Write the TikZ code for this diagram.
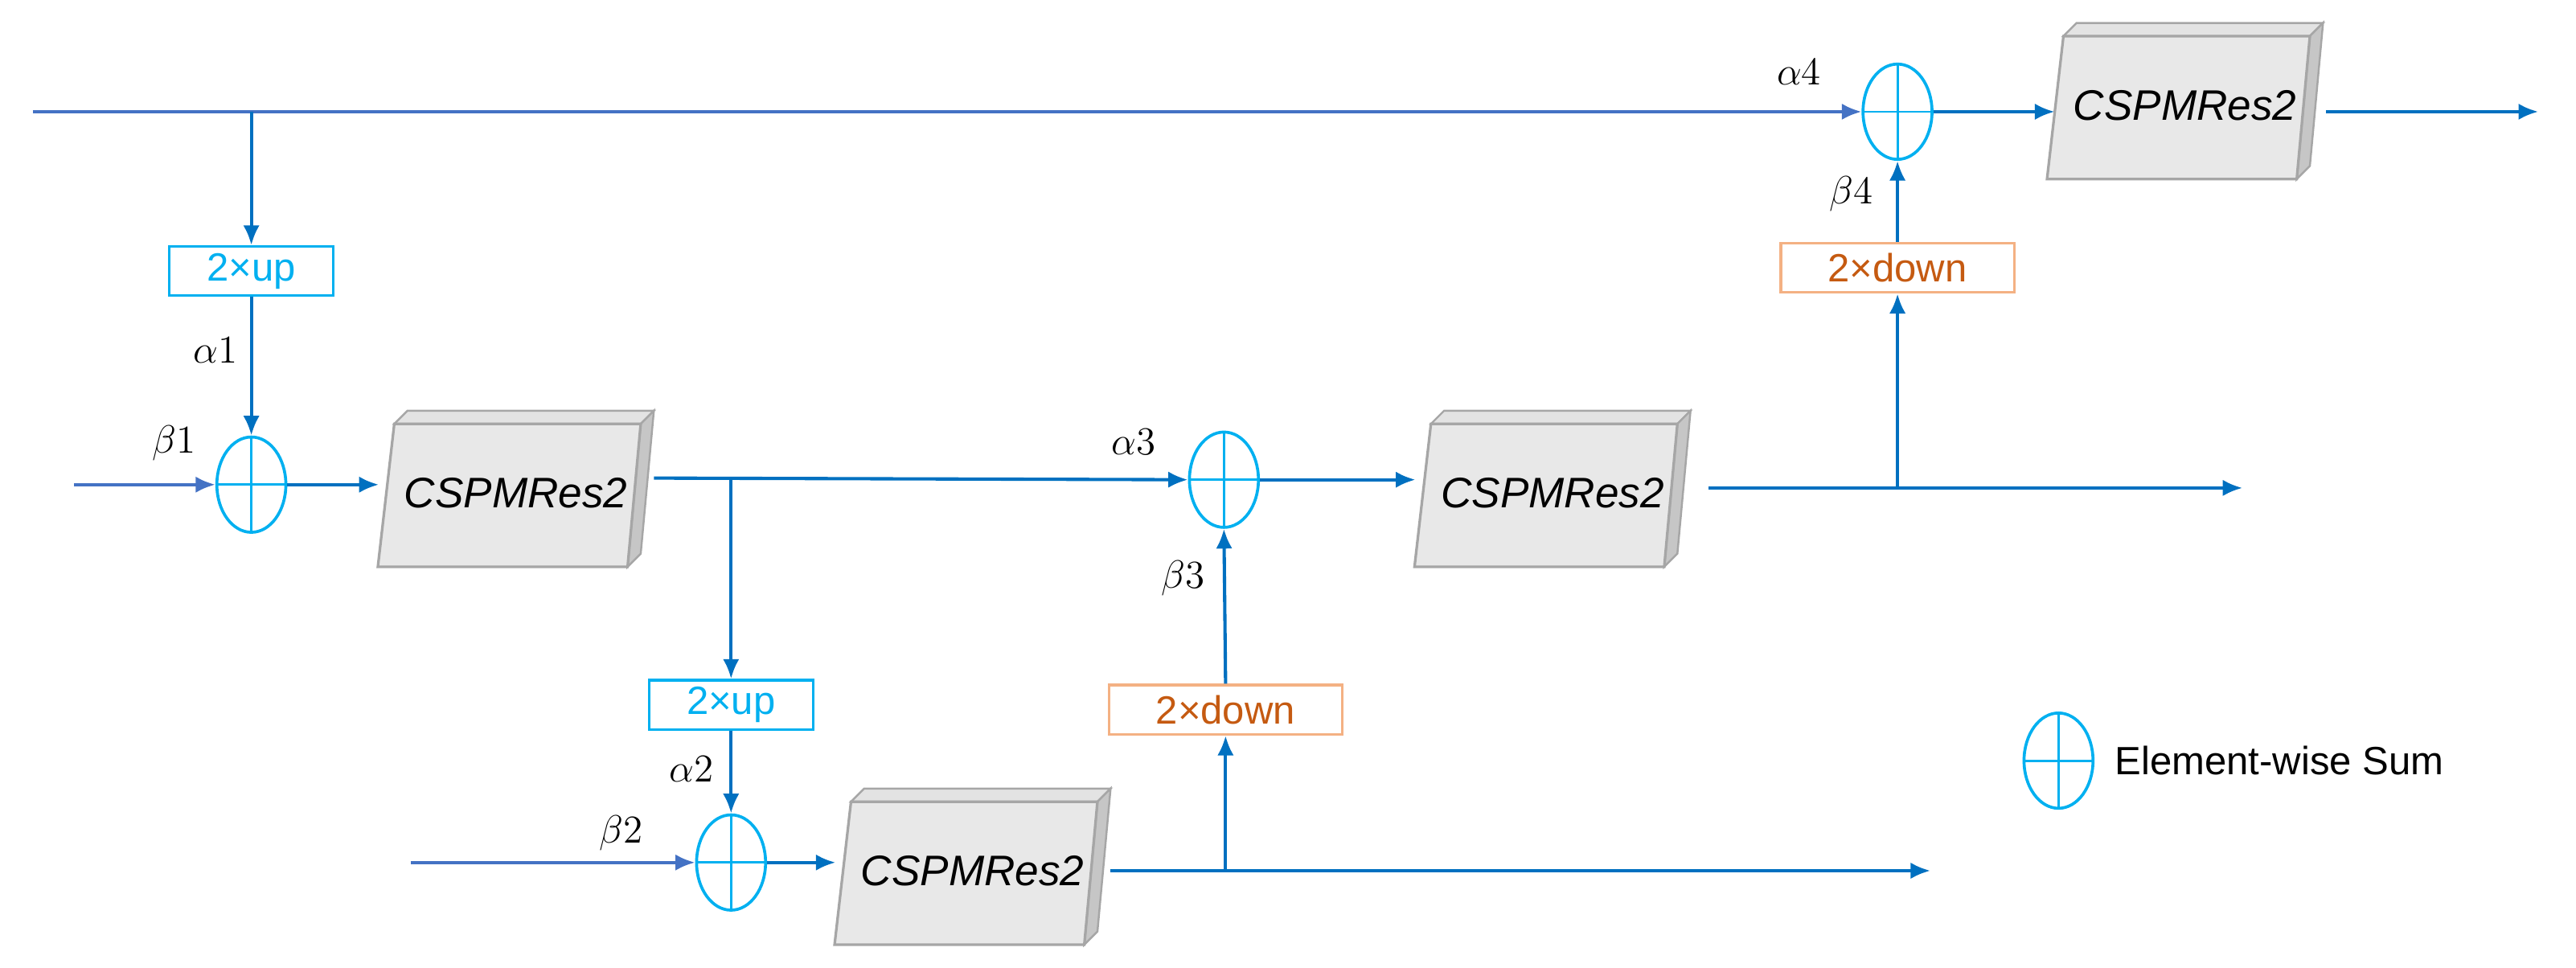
\documentclass[tikz,border=0pt]{standalone}
\usepackage{fontspec}
\setmainfont{Liberation Sans}
\usetikzlibrary{arrows.meta,shapes.geometric}
\definecolor{lblue}{HTML}{0070C0}
\definecolor{pblue}{HTML}{4472C4}
\definecolor{cyanc}{HTML}{00B0F0}
\definecolor{orb}{HTML}{F4B183}
\definecolor{ort}{HTML}{C55A11}
\tikzset{
  ln/.style={draw=lblue,line width=1pt},
  ar/.style={ln,-{Latex[length=6pt,width=5pt]}},
  arp/.style={draw=pblue,line width=1pt,-{Latex[length=6pt,width=5pt]}},
  sum/.style={ellipse,draw=cyanc,line width=0.9pt,minimum width=21pt,minimum height=29pt,inner sep=0pt,
    path picture={\draw[cyanc,line width=0.7pt] (path picture bounding box.north)--(path picture bounding box.south)
      (path picture bounding box.west)--(path picture bounding box.east);}},
  up/.style={draw=cyanc,line width=0.8pt,text=cyanc,minimum width=50pt,minimum height=15pt,inner sep=0pt,font=\fontsize{12}{14}\selectfont},
  down/.style={draw=orb,line width=0.8pt,text=ort,minimum width=71pt,minimum height=15pt,inner sep=0pt,font=\fontsize{12}{14}\selectfont},
  blkn/.style={minimum width=75pt,minimum height=43pt,inner sep=0pt,font=\fontsize{13}{15}\selectfont\itshape},
  lab/.style={font=\fontsize{13}{15}\selectfont,inner sep=0pt},
}
\newcommand\blk[3]{%
  \begin{scope}[shift={(#2,#3)}]
  \filldraw[fill=gray!22,draw=gray!70,line width=0.6pt] (-74,-42)--(-66,-50)--(84,-50)--(76,-42)--cycle;
  \filldraw[fill=gray!45,draw=gray!70,line width=0.6pt] (76,-42)--(84,-50)--(76,37)--(68,45)--cycle;
  \filldraw[fill=gray!18,draw=gray!70,line width=0.8pt] (-84,45)--(-74,-42)--(76,-42)--(68,45)--cycle;
  \end{scope}
  \node[blkn] (#1) at (#2,#3) {CSPMRes2};}
\begin{document}
\begin{tikzpicture}[x=0.5pt,y=-0.5pt]
\useasboundingbox (0,0) rectangle (1568,589);
% nodes
\node[sum] (s1) at (153,295) {};
\node[sum] (s2) at (445,525) {};
\node[sum] (s3) at (745,292) {};
\node[sum] (s4) at (1155,68) {};
\blk{b1}{314}{300}
\blk{b2}{592}{530}
\blk{b3}{945}{300}
\blk{b4}{1330}{64}
\node[up] (u1) at (153,165) {2×up};
\node[up] (u2) at (445,429) {2×up};
\node[down] (d3) at (746,432) {2×down};
\node[down] (d4) at (1155,163) {2×down};
\coordinate (in0) at (20,68);
\coordinate (in1) at (45,295);
\coordinate (in2) at (250,525);
\coordinate (t1) at (153,68);
\coordinate (t2) at (445,291);
\coordinate (t3) at (746,530);
\coordinate (t4) at (1155,297);
\coordinate (o4) at (1545,68);
\coordinate (o3) at (1365,297);
\coordinate (o2) at (1175,530);
\coordinate (e1) at (398,291);
\coordinate (e2) at (676,530);
\coordinate (e3) at (1040,297);
\coordinate (e4) at (1416,68);
% connectors
\draw[arp] (in0) -- (s4.west);
\draw[ar] (t1) -- (u1.north);
\draw[ar] (u1.south) -- (s1.north);
\draw[arp] (in1) -- (s1.west);
\draw[ar] (s1.east) -- ([xshift=-4]b1.west |- s1.east);
\draw[ar] (e1) -- (s3.west);
\draw[ar] (t2) -- (u2.north);
\draw[ar] (u2.south) -- (s2.north);
\draw[arp] (in2) -- (s2.west);
\draw[ar] (s2.east) -- ([xshift=-4]b2.west |- s2.east);
\draw[ar] (e2) -- (o2);
\draw[ar] (t3) -- (d3.south);
\draw[ar] (d3.north) -- (s3.south);
\draw[ar] (s3.east) -- ([xshift=-4]b3.west |- s3.east);
\draw[ar] (e3) -- (o3);
\draw[ar] (t4) -- (d4.south);
\draw[ar] (d4.north) -- (s4.south);
\draw[ar] (s4.east) -- ([xshift=-2]b4.west |- s4.east);
\draw[ar] (e4) -- (o4);
% labels
\node[lab] at (1095,44) {$\alpha4$};
\node[lab] at (1127,118) {$\beta4$};
\node[lab] at (131,213) {$\alpha1$};
\node[lab] at (106,270) {$\beta1$};
\node[lab] at (690,269) {$\alpha3$};
\node[lab] at (720,352) {$\beta3$};
\node[lab] at (421,468) {$\alpha2$};
\node[lab] at (378,507) {$\beta2$};
% legend
\node[sum] (lg) at (1253,463) {};
\node[anchor=west,font=\fontsize{12}{14}\selectfont,inner sep=0pt] (lgt) at (1287,463) {Element-wise Sum};
\end{tikzpicture}
\end{document}
